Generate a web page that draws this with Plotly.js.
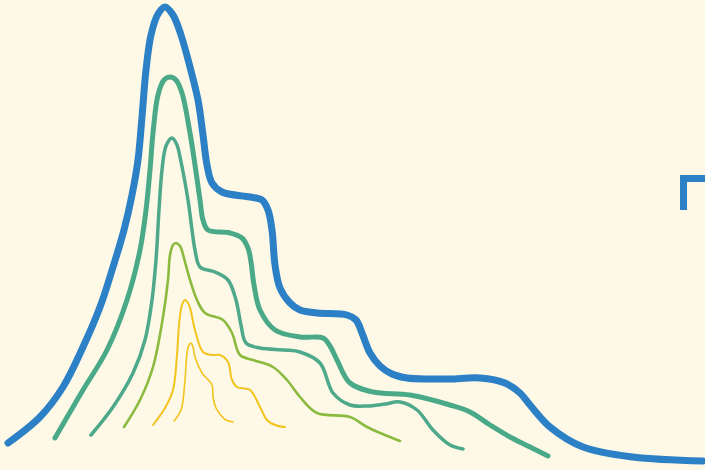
<!DOCTYPE html>
<html><head><meta charset="utf-8">
<script src="https://cdn.plot.ly/plotly-3.0.1.min.js"></script>
<style>html,body{margin:0;padding:0;background:#fef8e7;}#chart{width:705px;height:470px;}
path.js-line{stroke-linecap:round !important;stroke-linejoin:round !important;}</style>
</head><body><div id="chart"></div>
<script>
const blueX = [8,40,63,83,100,113,124,132,138,142,146,151,158,165,173,181,190,198,203,207,212,222,250,262,268,272,275,280,290,300,317,347,356,362,370,380,392,407,430,450,480,505,520,530,550,583,633,703];
const blueY = [443,417,387,347,307,267,230,195,160,117,70,35,14,7,15,35,67,100,135,165,183,192,197,200,210,230,265,288,303,310,313,315,320,333,353,366,374,378,379,379,378,383,393,405,427,447,457,461];

const greenX = [55,83,107,127,140,146,150,153,158,164,170,176,182,190,195,200,203,208,230,242,248,251,254,260,275,300,323,330,337,350,373,410,450,470,490,510,530,548];
const greenY = [438,390,350,300,250,210,170,133,95,80,77,80,93,133,165,200,220,230,233,238,248,262,285,310,330,337,338,346,360,383,392,395,405,412,425,437,447,456];

const tealX = [91,113,133,145,152,156,159,162,166,172,177,180,188,192,195,200,215,228,236,241,246,260,285,300,320,333,350,367,385,400,417,433,450,463];
const tealY = [435,407,373,340,300,260,210,170,146,138,145,157,200,230,250,267,272,280,300,325,343,348,350,352,363,393,405,406,404,402,410,430,445,449];

const ygX = [124,140,153,163,168,170,173,176,180,185,190,197,205,223,232,240,253,273,287,300,317,350,367,385,400];
const ygY = [427,400,367,317,280,255,245,243,246,262,280,300,313,320,333,355,360,367,380,397,413,417,427,435,441];

const yelX = [153,165,173,177,179,182,185,189,195,203,212,220,228,232,237,250,260,267,275,285];
const yelY = [425,408,390,355,325,305,300,305,330,352,355,355,362,380,387,390,407,420,425,427];

const yel2X = [174,181,185,187,189,191,193,195,202,212,213,216,220,226,233];
const yel2Y = [421,410,380,353,345,343,347,357,373,385,397,408,414,420,422];

const names = ['blue','green','teal','yellowgreen','yellow','yellow2'];
const xs = [blueX, greenX, tealX, ygX, yelX, yel2X];
const ys = [blueY, greenY, tealY, ygY, yelY, yel2Y];
const colors = ['#2b80c6','#4aaa88','#4ea98a','#8aba3e','#f2c41e','#f2c41e'];
const widths = [7, 5, 3.5, 2.6, 2, 1.6];

const traces = xs.map((x, i) => ({
  x: x, y: ys[i], name: names[i], type: 'scatter', mode: 'lines',
  line: {color: colors[i], width: widths[i], shape: 'spline', smoothing: 1},
  hoverinfo: 'skip', showlegend: false
}));

const layout = {
  width: 705, height: 470,
  margin: {l: 0, r: 0, t: 0, b: 0},
  paper_bgcolor: '#fef8e7', plot_bgcolor: '#fef8e7',
  xaxis: {range: [0, 705], visible: false, fixedrange: true},
  yaxis: {range: [470, 0], visible: false, fixedrange: true},
  shapes: [{
    type: 'path', xref: 'x', yref: 'y',
    path: 'M 720 178.5 L 683.5 178.5 L 683.5 210',
    line: {color: '#2b80c6', width: 7}
  }]
};
Plotly.newPlot('chart', traces, layout, {displayModeBar: false, staticPlot: true});
</script></body></html>
